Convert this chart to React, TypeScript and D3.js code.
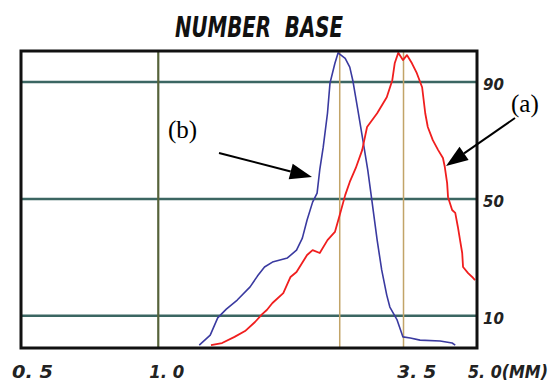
import { useRef, useEffect } from 'react';
import * as d3 from 'd3';

const WIDTH = 560;
const HEIGHT = 387;
const PLOT = { left: 21, right: 477, top: 51, bottom: 348 };

const TITLE = 'NUMBER  BASE';

// x ticks (particle size, mm) on a log axis
const X_TICKS = [0.5, 1.0, 3.5, 5.0];
const X_TICK_LABELS = ['0. 5', '1. 0', '3. 5', '5. 0(MM)'];
const X_TICK_WIDTHS = [41, 35, 39, 80];

// y grid (cumulative %)
const Y_LINES = [90, 50, 10];
const Y_LINE_LABELS = ['90', '50', '10'];

// vertical markers
const V_MAIN = [1.0];
const V_MARKS = [2.5, 3.45];

// curve (b) blue
const blueX = [1.23, 1.30, 1.35, 1.41, 1.49, 1.59, 1.65, 1.71, 1.78, 1.92, 2.01, 2.07, 2.12, 2.18, 2.23, 2.26, 2.30, 2.35, 2.38, 2.44, 2.48, 2.57, 2.63, 2.67, 2.74, 2.81, 2.88, 2.94, 3.02, 3.09, 3.17, 3.22, 3.34, 3.44, 3.57, 3.75, 4.15, 4.41, 4.48];
const blueY = [0, 3.4, 9.3, 12.3, 15.4, 19.9, 23.6, 26.7, 28.4, 29.8, 32.5, 36.6, 42.8, 48.9, 52.0, 59.9, 67.7, 79.3, 89.6, 96.4, 100, 98.1, 95.1, 90.6, 80.4, 70.1, 59.9, 49.6, 35.9, 25.7, 17.1, 13.0, 8.6, 2.8, 2.4, 1.7, 1.4, 0.7, 0];

// curve (a) red
const redX = [1.305, 1.38, 1.47, 1.55, 1.63, 1.69, 1.73, 1.78, 1.88, 1.95, 2.01, 2.12, 2.18, 2.26, 2.35, 2.44, 2.50, 2.57, 2.63, 2.71, 2.80, 2.87, 3.02, 3.17, 3.26, 3.30, 3.36, 3.44, 3.51, 3.60, 3.69, 3.79, 3.85, 3.90, 4.00, 4.11, 4.21, 4.25, 4.30, 4.32, 4.41, 4.48, 4.54, 4.59, 4.64, 4.66, 4.78, 4.88, 4.95];
const redY = [0, 0.7, 2.8, 4.8, 7.9, 10.6, 12.0, 14.4, 17.8, 23.3, 25.0, 30.8, 32.5, 31.5, 35.9, 38.7, 44.5, 51.3, 55.8, 60.5, 66.7, 74.6, 79.3, 84.8, 90.6, 96.4, 100, 97.5, 99.2, 96.4, 93.0, 88.2, 79.3, 74.6, 70.1, 66.7, 64.0, 60.9, 55.4, 50.6, 46.2, 45.2, 40.4, 35.9, 31.5, 26.7, 24.6, 23.3, 22.2];

const TICK_FONT = '"DejaVu Sans", sans-serif';

export default function App() {
  const svgRef = useRef<SVGSVGElement>(null);

  useEffect(() => {
    const svg = d3.select(svgRef.current);
    svg.selectAll('*').remove();

    const x = d3.scaleLog().domain([0.5, 5.0]).range([PLOT.left, PLOT.right]);
    const y = d3.scaleLinear().domain([-1, 100.6]).range([PLOT.bottom, PLOT.top]);

    svg.append('rect').attr('width', WIDTH).attr('height', HEIGHT).attr('fill', '#fff');

    // title
    svg.append('text')
      .attr('x', 175).attr('y', 37)
      .attr('textLength', 168).attr('lengthAdjust', 'spacingAndGlyphs')
      .attr('font-family', TICK_FONT).attr('font-weight', 'bold').attr('font-style', 'italic')
      .attr('font-size', 29).attr('fill', '#111')
      .style('white-space', 'pre')
      .text(TITLE);

    // horizontal grid
    svg.append('g').selectAll('line')
      .data(Y_LINES)
      .join('line')
      .attr('x1', PLOT.left).attr('x2', PLOT.right)
      .attr('y1', d => y(d)).attr('y2', d => y(d))
      .attr('stroke', '#3b6662').attr('stroke-width', 2.5);

    // vertical lines
    svg.append('g').selectAll('line')
      .data(V_MAIN)
      .join('line')
      .attr('x1', d => x(d)).attr('x2', d => x(d))
      .attr('y1', PLOT.top).attr('y2', PLOT.bottom)
      .attr('stroke', '#56633a').attr('stroke-width', 2.2);

    svg.append('g').selectAll('line')
      .data(V_MARKS)
      .join('line')
      .attr('x1', d => x(d)).attr('x2', d => x(d))
      .attr('y1', PLOT.top).attr('y2', PLOT.bottom)
      .attr('stroke', '#c2a468').attr('stroke-width', 1.5);

    const line = d3.line<[number, number]>()
      .x(d => x(d[0]))
      .y(d => y(d[1]));

    svg.append('path')
      .datum(blueX.map((v, i) => [v, blueY[i]] as [number, number]))
      .attr('d', line)
      .attr('fill', 'none').attr('stroke', '#3a3aa0').attr('stroke-width', 1.6)
      .attr('stroke-linejoin', 'round');

    svg.append('path')
      .datum(redX.map((v, i) => [v, redY[i]] as [number, number]))
      .attr('d', line)
      .attr('fill', 'none').attr('stroke', '#f01e1e').attr('stroke-width', 1.8)
      .attr('stroke-linejoin', 'round');

    // frame
    svg.append('rect')
      .attr('x', PLOT.left).attr('y', PLOT.top)
      .attr('width', PLOT.right - PLOT.left).attr('height', PLOT.bottom - PLOT.top)
      .attr('fill', 'none').attr('stroke', '#111').attr('stroke-width', 3);

    // x tick labels
    svg.append('g').selectAll('text')
      .data(X_TICKS)
      .join('text')
      .attr('x', d => x(d) - 9)
      .attr('y', 378)
      .attr('textLength', (_, i) => X_TICK_WIDTHS[i]).attr('lengthAdjust', 'spacingAndGlyphs')
      .attr('font-family', TICK_FONT).attr('font-weight', 'bold').attr('font-style', 'italic')
      .attr('font-size', 17).attr('fill', '#222')
      .style('white-space', 'pre')
      .text((_, i) => X_TICK_LABELS[i]);

    // y labels at right
    svg.append('g').selectAll('text')
      .data(Y_LINES)
      .join('text')
      .attr('x', PLOT.right + 6)
      .attr('y', d => y(d) + 8)
      .attr('font-family', TICK_FONT).attr('font-weight', 'bold').attr('font-style', 'italic')
      .attr('font-size', 15).attr('fill', '#222')
      .text((_, i) => Y_LINE_LABELS[i]);

    // annotations
    const arrow = (x1: number, y1: number, x2: number, y2: number) => {
      const ang = Math.atan2(y2 - y1, x2 - x1);
      const len = 22, half = 8;
      const bx = x2 - len * Math.cos(ang), by = y2 - len * Math.sin(ang);
      svg.append('line')
        .attr('x1', x1).attr('y1', y1).attr('x2', bx).attr('y2', by)
        .attr('stroke', '#000').attr('stroke-width', 2);
      svg.append('polygon')
        .attr('points', [
          [x2, y2],
          [bx + half * Math.sin(ang), by - half * Math.cos(ang)],
          [bx - half * Math.sin(ang), by + half * Math.cos(ang)],
        ].map(p => p.join(',')).join(' '))
        .attr('fill', '#000');
    };

    svg.append('text')
      .attr('x', 511).attr('y', 112)
      .attr('font-family', '"Liberation Serif", serif').attr('font-size', 25)
      .text('(a)');
    arrow(515, 118, 446, 166);

    svg.append('text')
      .attr('x', 168).attr('y', 138)
      .attr('font-family', '"Liberation Serif", serif').attr('font-size', 25)
      .text('(b)');
    arrow(219, 153, 312, 177);
  }, []);

  return (
    <div style={{ position: 'absolute', left: 0, top: 0 }}>
      <svg ref={svgRef} width={WIDTH} height={HEIGHT} />
    </div>
  );
}
